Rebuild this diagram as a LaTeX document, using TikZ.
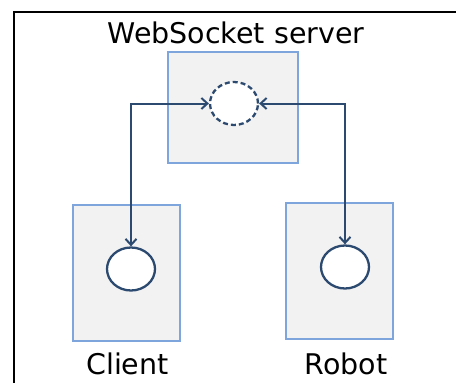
\documentclass[tikz,border=0pt]{standalone}
\usepackage{fontspec}
\setmainfont{DejaVu Sans}
\usetikzlibrary{arrows.meta,shapes.geometric}
\definecolor{boxfill}{HTML}{F2F2F2}
\definecolor{boxline}{HTML}{7EA6DC}
\definecolor{sock}{HTML}{2C4A70}
\tikzset{
  hostbox/.style={draw=boxline, fill=boxfill, line width=1.5pt},
  sockets/.style={ellipse, draw=sock, fill=white, line width=2.3pt, minimum width=48pt, minimum height=43pt, inner sep=0pt},
  txtlabel/.style={font=\fontsize{28.5}{30}\selectfont, anchor=base, inner sep=0pt},
  link/.style={draw=sock, line width=2pt, {Straight Barb[length=6pt,width=11pt,line width=2pt]}-{Straight Barb[length=6pt,width=11pt,line width=2pt]}}
}
\begin{document}
\begin{tikzpicture}[x=1pt,y=-1pt]
\useasboundingbox (0,0) rectangle (456,383);
\draw[line width=1.4pt] (14,383) -- (14,12) -- (456,12);
\draw[hostbox] (168,52) rectangle (298,163);
\draw[hostbox] (73,205) rectangle (180,341);
\draw[hostbox] (286,203) rectangle (393,339);
\node[sockets, dash pattern=on 5pt off 3pt] (srv) at (234,103.5) {};
\node[sockets] (cli) at (131,269) {};
\node[sockets] (rob) at (345,267) {};
\node[txtlabel] (title) at (236,43) {WebSocket server};
\node[txtlabel] (clab) at (127.5,374) {Client};
\node[txtlabel] (rlab) at (346,374) {Robot};
\draw[link] (srv.west) -| (cli.north);
\draw[link] (srv.east) -| (rob.north);
\end{tikzpicture}
\end{document}
